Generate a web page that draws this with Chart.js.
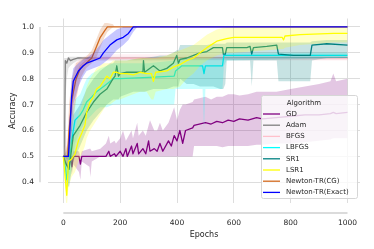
<!DOCTYPE html>
<html>
<head>
<meta charset="utf-8">
<script src="https://cdn.jsdelivr.net/npm/chart.js@4/dist/chart.umd.min.js"></script>
<style>
  html, body { margin: 0; padding: 0; background: #fff; }
  canvas { display: block; }
</style>
</head>
<body>
<canvas id="accChart" width="374" height="249"></canvas>
<script>
// rows: [epoch, mean, lower band, upper band]
var gd = [
  [0,.5,.5,.5],[25,.5,.48,.5],[30,.46,.43,.5],[35,.5,.47,.52],[55,.5,.44,.52],[60,.47,.41,.5],
  [65,.5,.48,.52],[92,.5,.46,.53],[95,.5,.42,.53],[100,.5,.48,.52],[130,.5,.5,.53],[150,.5,.5,.55],
  [160,.52,.5,.58],[165,.5,.5,.55],[180,.51,.5,.56],[185,.5,.5,.55],[200,.52,.5,.57],[210,.5,.5,.6],
  [220,.53,.5,.56],[225,.5,.5,.57],[240,.54,.5,.6],[245,.51,.5,.57],[260,.55,.5,.63],[265,.51,.5,.58],
  [280,.53,.5,.6],[290,.51,.5,.58],[300,.56,.5,.62],[305,.52,.5,.64],[320,.53,.5,.6],[330,.52,.5,.6],
  [340,.55,.5,.63],[350,.52,.5,.6],[370,.56,.5,.63],[380,.54,.5,.66],[390,.58,.5,.69],[400,.56,.5,.64],
  [410,.6,.5,.68],[420,.55,.5,.7],[430,.6,.5,.7],[455,.61,.5,.71],[460,.62,.54,.72],[500,.63,.54,.73],
  [520,.625,.54,.72],[540,.635,.54,.73],[560,.63,.535,.73],[580,.64,.54,.74],[600,.635,.54,.74],
  [620,.645,.54,.735],[650,.64,.54,.74],[680,.65,.545,.75],[700,.645,.545,.75],[750,.65,.55,.75],
  [800,.655,.55,.76],[850,.66,.555,.77],[900,.66,.56,.78],[940,.665,.565,.79],[950,.67,.57,.82],
  [960,.665,.57,.79],[1000,.67,.57,.8]
];
var adam = [
  [0,.5,.5,.5],[3,.5,.5,.88],[5,.62,.5,.88],[7,.87,.72,.88],[12,.86,.8,.88],[18,.88,.84,.885],
  [25,.87,.85,.885],[35,.875,.86,.885],[50,.88,.87,.885],[1000,.88,.875,.885]
];
var bfgs = [
  [0,.5,.5,.5],[15,.5,.45,.6],[25,.65,.55,.76],[40,.8,.7,.86],[60,.85,.8,.88],[80,.87,.85,.89],
  [100,.88,.87,.895],[1000,.878,.87,.895]
];
var lbfgs = [
  [0,.5,.5,.5],[8,.45,.38,.5],[12,.41,.36,.5],[20,.47,.4,.58],[29,.56,.45,.66],[41,.64,.55,.72],
  [59,.66,.6,.74],[70,.68,.62,.77],[82,.71,.64,.8],[100,.73,.66,.82],[117,.75,.68,.83],[130,.76,.69,.84],
  [153,.78,.69,.85],[176,.8,.7,.86],[200,.8,.7,.86],[300,.805,.7,.86],[390,.81,.7,.87],[395,.83,.76,.87],
  [417,.85,.76,.88],[490,.85,.76,.88],[495,.82,.6,.88],[500,.85,.76,.88],[560,.85,.76,.88],
  [565,.89,.85,.9],[575,.89,.87,.9],[1000,.89,.88,.9]
];
var sr1 = [
  [0,.5,.5,.5],[10,.47,.4,.52],[20,.45,.38,.55],[35,.58,.48,.66],[59,.62,.54,.7],[82,.67,.6,.76],
  [106,.71,.64,.8],[129,.74,.67,.83],[153,.76,.7,.85],[164,.78,.71,.86],[175,.8,.72,.86],[182,.81,.72,.87],
  [188,.85,.72,.87],[194,.81,.72,.87],[200,.82,.73,.87],[223,.825,.74,.87],[246,.825,.75,.875],
  [280,.825,.75,.88],[282,.87,.75,.88],[286,.825,.75,.88],[317,.85,.76,.885],[340,.83,.76,.89],
  [364,.84,.76,.89],[387,.86,.77,.9],[399,.89,.77,.91],[405,.86,.77,.91],[411,.875,.8,.93],
  [434,.88,.78,.93],[458,.89,.78,.93],[481,.9,.77,.93],[505,.905,.77,.93],[528,.92,.77,.935],
  [552,.92,.76,.935],[560,.92,.76,.935],[563,.895,.76,.935],[570,.895,.78,.935],[575,.92,.87,.94],
  [646,.92,.87,.94],[657,.925,.87,.94],[663,.895,.77,.94],[669,.92,.87,.94],[716,.925,.87,.94],
  [751,.93,.87,.94],[757,.895,.79,.94],[810,.89,.79,.94],[869,.89,.79,.94],[875,.93,.87,.945],
  [927,.935,.88,.95],[1000,.93,.88,.95]
];
var lsr1 = [
  [0,.5,.5,.5],[8,.4,.34,.5],[12,.35,.3,.45],[18,.48,.38,.52],[29,.49,.42,.56],[41,.51,.44,.6],
  [53,.56,.48,.66],[65,.59,.51,.7],[76,.62,.54,.74],[82,.67,.57,.77],[94,.71,.6,.8],[106,.73,.62,.82],
  [117,.76,.64,.84],[129,.77,.66,.85],[141,.79,.68,.86],[153,.81,.7,.86],[164,.8,.7,.86],
  [176,.825,.71,.87],[188,.825,.72,.87],[200,.82,.72,.87],[223,.82,.73,.87],[246,.815,.74,.875],
  [270,.825,.75,.88],[293,.82,.75,.88],[310,.82,.72,.88],[317,.79,.72,.88],[325,.825,.75,.88],
  [364,.83,.76,.89],[387,.845,.76,.9],[411,.855,.77,.91],[434,.87,.8,.92],[458,.88,.82,.93],
  [481,.9,.85,.95],[505,.92,.87,.97],[540,.945,.89,.99],[575,.955,.9,1],[599,.96,.9,1],
  [716,.96,.91,1],[770,.96,.915,1],[775,.95,.915,1],[780,.965,.92,1],[833,.97,.93,1],
  [951,.975,.94,1],[1000,.975,.94,1]
];
var newtonCG = [
  [0,.5,.5,.5],[15,.5,.45,.55],[20,.6,.5,.7],[30,.72,.6,.8],[45,.8,.72,.86],[60,.84,.8,.87],
  [80,.86,.84,.885],[100,.88,.86,.91],[115,.92,.88,.95],[130,.96,.92,.99],[145,.985,.96,1.015],
  [155,1,.98,1.015],[175,1,1,1.01],[180,1,1,1],[1000,1,1,1]
];
var newtonExact = [
  [0,.5,.5,.5],[18,.5,.5,.5],[20,.54,.5,.6],[29,.73,.6,.8],[35,.79,.7,.84],[53,.83,.77,.86],
  [70,.85,.81,.875],[82,.86,.83,.88],[106,.87,.84,.9],[129,.88,.85,.93],[141,.9,.86,.95],
  [164,.93,.88,.97],[188,.95,.91,.99],[211,.96,.93,1],[229,.975,.95,1],[246,1,.98,1],
  [260,1,1,1],[1000,1,1,1]
];

var algorithms = ["GD", "Adam", "BFGS", "LBFGS", "SR1", "LSR1", "Newton-TR(CG)", "Newton-TR(Exact)"];
var algoRows = [gd, adam, bfgs, lbfgs, sr1, lsr1, newtonCG, newtonExact];
var algoColors = ["#800080", "#808080", "#ffc0cb", "#00ffff", "#008080", "#ffff00", "#d2691e", "#0000ff"];

var xTicks = [0, 200, 400, 600, 800, 1000];
var yTicks = [0.4, 0.5, 0.6, 0.7, 0.8, 0.9, 1.0];

var FONT = "'DejaVu Sans', sans-serif";
var TEXT = "#262626";

function rgba(hex, a) {
    var n = parseInt(hex.slice(1), 16);
    return "rgba(" + (n >> 16) + "," + ((n >> 8) & 255) + "," + (n & 255) + "," + a + ")";
}

var datasets = [];
algorithms.forEach(function (name, i) {
    var rows = algoRows[i], color = algoColors[i], k = datasets.length;
    datasets.push({
        label: name + " low",
        data: rows.map(function (r) { return { x: r[0], y: r[2] }; }),
        borderColor: "transparent", borderWidth: 0, fill: false, order: 100 - k
    });
    datasets.push({
        label: name + " high",
        data: rows.map(function (r) { return { x: r[0], y: r[3] }; }),
        borderColor: "transparent", borderWidth: 0,
        backgroundColor: rgba(color, 0.22), fill: "-1", order: 99 - k
    });
    datasets.push({
        label: name,
        data: rows.map(function (r) { return { x: r[0], y: r[1] }; }),
        borderColor: color, borderWidth: 1.3, fill: false, order: 98 - k,
        isMean: true
    });
});

// offset axis lines like seaborn despine(trim=True)
var spines = {
    id: "spines",
    afterDraw: function (chart) {
        var c = chart.ctx, xs = chart.scales.x, ys = chart.scales.y;
        c.save();
        c.strokeStyle = "#cfcfcf";
        c.lineWidth = 1.3;
        c.beginPath();
        c.moveTo(40, ys.getPixelForValue(1.0));
        c.lineTo(40, ys.getPixelForValue(0.4));
        c.moveTo(xs.getPixelForValue(0), 213);
        c.lineTo(xs.getPixelForValue(1000), 213);
        c.stroke();
        c.restore();
    }
};

var legendBox = {
    id: "legendBox",
    afterDraw: function (chart) {
        var c = chart.ctx;
        var x0 = 261, y0 = 95, w = 96, h = 103;
        c.save();
        c.fillStyle = "rgba(255,255,255,0.8)";
        c.strokeStyle = "#d6d6d6";
        c.lineWidth = 1;
        c.beginPath();
        c.roundRect(x0 + 0.5, y0 + 0.5, w, h, 2);
        c.fill();
        c.stroke();
        c.font = "7px " + FONT;
        c.fillStyle = TEXT;
        c.textBaseline = "middle";
        c.textAlign = "center";
        c.fillText("Algorithm", 304, 103);
        c.textAlign = "left";
        chart.data.datasets.filter(function (d) { return d.isMean; }).forEach(function (d, i) {
            var y = 114 + i * 11.2;
            c.strokeStyle = d.borderColor;
            c.lineWidth = 1.3;
            c.beginPath();
            c.moveTo(263, y);
            c.lineTo(280, y);
            c.stroke();
            c.fillStyle = TEXT;
            c.fillText(d.label, 286, y);
        });
        c.restore();
    }
};

var ctx = document.getElementById("accChart").getContext("2d");
var accChart = new Chart(ctx, {
    type: "line",
    data: { datasets: datasets },
    options: {
        responsive: false,
        animation: false,
        devicePixelRatio: 1,
        layout: { padding: { top: 13, right: 14, left: 0, bottom: 0 } },
        elements: { point: { radius: 0 }, line: { tension: 0, borderJoinStyle: "round" } },
        plugins: { legend: { display: false }, tooltip: { enabled: false } },
        scales: {
            x: {
                type: "linear", min: -54, max: 1044,
                afterBuildTicks: function (s) { s.ticks = xTicks.map(function (v) { return { value: v }; }); },
                afterFit: function (s) { s.height = 46; },
                grid: { color: "#dddddd", lineWidth: 1, drawTicks: false },
                border: { display: false },
                ticks: {
                    padding: 16, maxRotation: 0, color: TEXT, font: { family: FONT, size: 7.5 },
                    callback: function (v) { return String(v); }
                },
                title: {
                    display: true, text: "Epochs", color: TEXT,
                    font: { family: FONT, size: 8 }, padding: { top: 0, bottom: 9.5 }
                }
            },
            y: {
                min: 0.32, max: 1.0326,
                afterBuildTicks: function (s) { s.ticks = yTicks.map(function (v) { return { value: v }; }); },
                afterFit: function (s) { s.width = 48; },
                grid: { color: "#dddddd", lineWidth: 1, drawTicks: false },
                border: { display: false },
                ticks: {
                    padding: 14, color: TEXT, font: { family: FONT, size: 7.5 },
                    callback: function (v) { return v.toFixed(1); }
                },
                title: {
                    display: true, text: "Accuracy", color: TEXT,
                    font: { family: FONT, size: 8 }, padding: { top: 8, bottom: 0 }
                }
            }
        }
    },
    plugins: [spines, legendBox]
});
</script>
</body>
</html>
